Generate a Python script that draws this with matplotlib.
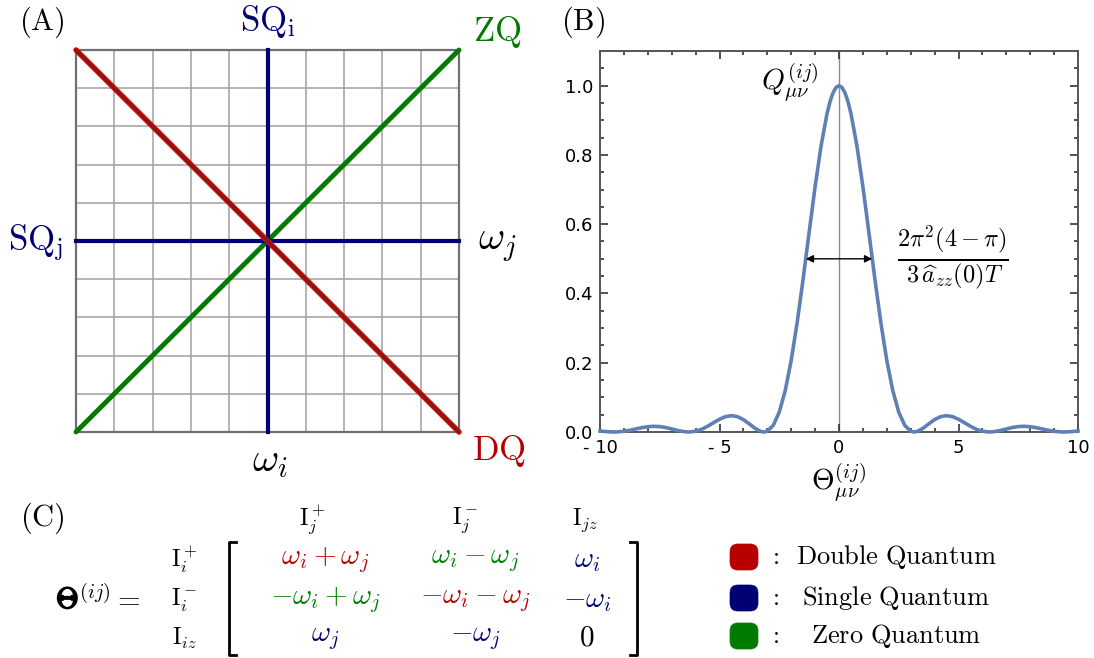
import numpy as np
import matplotlib
matplotlib.use('Agg')
import matplotlib.pyplot as plt
import matplotlib.patheffects as pe
from matplotlib.patches import FancyBboxPatch

plt.rcParams['mathtext.fontset'] = 'cm'
plt.rcParams['font.family'] = ['DejaVu Sans']

# panel B curve (right half, curve is symmetric)
theta_half = [0, 0.125, 0.25, 0.375, 0.5, 0.75, 1.0, 1.25, 1.5, 1.75, 2.0, 2.25, 2.5, 2.75,
              3.0, 3.14, 3.25, 3.5, 3.75, 4.0, 4.25, 4.5, 4.75, 5.0, 5.25, 5.5, 5.75, 6.0,
              6.28, 6.5, 6.75, 7.0, 7.25, 7.5, 7.75, 8.0, 8.25, 8.5, 8.75, 9.0, 9.25, 9.42,
              9.75, 10.0]
q_half = [1.0, 0.9948, 0.9793, 0.9540, 0.9194, 0.8261, 0.7081, 0.5764, 0.4422, 0.3162,
          0.2067, 0.1196, 0.0573, 0.0193, 0.0022, 0.0, 0.0011, 0.0100, 0.0232, 0.0358,
          0.0443, 0.0472, 0.0443, 0.0368, 0.0268, 0.0165, 0.0078, 0.0022, 0.0, 0.0011,
          0.0044, 0.0088, 0.0129, 0.0156, 0.0165, 0.0153, 0.0125, 0.0088, 0.0051, 0.0021,
          0.0004, 0.0, 0.0011, 0.0030]
fwhm_half = 1.39

x_ticks = [-10, -5, 0, 5, 10]
x_ticklabels = ['- 10', '- 5', '0', '5', '10']
y_ticks = [0.0, 0.2, 0.4, 0.6, 0.8, 1.0]

# panel C matrix
col_labels = [r'$\mathrm{I}_j^+$', r'$\mathrm{I}_j^-$', r'$\mathrm{I}_{jz}$']
row_labels = [r'$\mathrm{I}_i^+$', r'$\mathrm{I}_i^-$', r'$\mathrm{I}_{iz}$']
entries = [[r'$\omega_i+\omega_j$', r'$\omega_i-\omega_j$', r'$\omega_i$'],
           [r'$-\omega_i+\omega_j$', r'$-\omega_i-\omega_j$', r'$-\omega_i$'],
           [r'$\omega_j$', r'$-\omega_j$', r'$0$']]
legend_names = ['Double Quantum', 'Single Quantum', 'Zero Quantum']

red = '#b80000'
navy = '#000075'
green = '#007a00'
entry_colors = [[red, green, navy],
                [green, red, navy],
                [navy, navy, 'black']]
legend_colors = [red, navy, green]

W, H = 1094, 658
fig = plt.figure(figsize=(W / 100, H / 100), dpi=100)

# ---------------- panel A
ax_a = fig.add_axes([76 / W, 1 - 432 / H, 383 / W, 382 / H])
ax_a.set_xlim(-5, 5)
ax_a.set_ylim(-5, 5)
ax_a.set_xticks([])
ax_a.set_yticks([])
for g in range(-4, 5):
    ax_a.axvline(g, color='#a0a0a0', lw=1.1, zorder=1)
    ax_a.axhline(g, color='#a0a0a0', lw=1.1, zorder=1)
for sp in ax_a.spines.values():
    sp.set_color('#707070')
    sp.set_linewidth(1.6)
ax_a.plot([-5, 5], [-5, 5], color=green, lw=3.5, solid_capstyle='round', zorder=3, clip_on=False)
ax_a.plot([0, 0], [-5, 5], color=navy, lw=3, zorder=3, clip_on=False)
ax_a.plot([-5, 5], [0, 0], color=navy, lw=3, zorder=3, clip_on=False)
ax_a.plot([-5, 5], [5, -5], color='#d01010', lw=4, solid_capstyle='round', zorder=4, clip_on=False)
ax_a.plot([-5, 5], [5, -5], color='#8a1515', lw=2.2, solid_capstyle='round', zorder=5, clip_on=False)

# ---------------- panel B
ax_b = fig.add_axes([600 / W, 1 - 432 / H, 478 / W, 381 / H])
theta = [-t for t in theta_half[::-1]] + theta_half[1:]
q = q_half[::-1] + q_half[1:]
ax_b.axvline(0, color='#8a8a8a', lw=1.0, zorder=1)
ax_b.plot(theta, q, color='#5e81b5', lw=2.6, zorder=3, clip_on=False)
ax_b.set_xlim(-10, 10)
ax_b.set_ylim(0, 1.1)
ax_b.set_xticks(x_ticks)
ax_b.set_xticklabels(x_ticklabels)
ax_b.set_yticks(y_ticks)
ax_b.set_xticks(np.arange(-10, 11, 1), minor=True)
ax_b.set_yticks(np.arange(0, 1.1, 0.05), minor=True)
ax_b.tick_params(which='both', direction='in', top=True, right=True, color='#333333',
                 labelsize=13, width=1.2)
ax_b.tick_params(which='major', length=6, pad=5)
ax_b.tick_params(which='minor', length=3)
for sp in ax_b.spines.values():
    sp.set_color('#555555')
    sp.set_linewidth(1.4)
ax_b.annotate('', xy=(fwhm_half, 0.5), xytext=(-fwhm_half, 0.5),
              arrowprops=dict(arrowstyle='<|-|>', color='black', lw=1.0,
                              mutation_scale=11, shrinkA=0, shrinkB=0))
ax_b.set_xlabel(r'$\Theta_{\mu\nu}^{(ij)}$', fontsize=21, labelpad=3)

# ---------------- overlay for text and panel C (pixel coords)
ov = fig.add_axes([0, 0, 1, 1])
ov.set_xlim(0, W)
ov.set_ylim(H, 0)
ov.axis('off')
ov.patch.set_visible(False)

ov.text(42, 22, r'$\mathrm{(A)}$', fontsize=22, ha='center', va='center')
ov.text(583, 22, r'$\mathrm{(B)}$', fontsize=22, ha='center', va='center')
ov.text(42, 518, r'$\mathrm{(C)}$', fontsize=22, ha='center', va='center')

ov.text(268, 22, r'$\mathrm{SQ}_\mathrm{i}$', fontsize=25, color=navy, ha='center', va='center')
ov.text(497, 32, r'$\mathrm{ZQ}$', fontsize=25, color=green, ha='center', va='center')
ov.text(36, 243, r'$\mathrm{SQ}_\mathrm{j}$', fontsize=25, color=navy, ha='center', va='center')
ov.text(497, 245, r'$\omega_j$', fontsize=29, color='black', ha='center', va='center')
ov.text(270, 460, r'$\omega_i$', fontsize=29, color='black', ha='center', va='center')
ov.text(499, 451, r'$\mathrm{DQ}$', fontsize=25, color=red, ha='center', va='center')

ov.text(790, 82, r'$Q_{\mu\nu}^{(ij)}$', fontsize=21, ha='center', va='center')
ov.text(953, 258, r'$\frac{2\pi^2(4-\pi)}{3\,\widehat{a}_{zz}(0)T}$', fontsize=25,
        ha='center', va='center')

# matrix
ov.text(56, 608, r'$\Theta$', fontsize=21, ha='left', va='baseline',
        path_effects=[pe.withStroke(linewidth=1.2, foreground='black')])
ov.text(78, 608, r'${}^{(ij)}=$', fontsize=21, ha='left', va='baseline')
col_x = [312, 465, 585]
row_y = [560, 600, 638]
entry_x = [325, 475, 587]
for cx, lab in zip(col_x, col_labels):
    ov.text(cx, 520, lab, fontsize=17, ha='center', va='center')
for ry, lab in zip(row_y, row_labels):
    ov.text(184, ry, lab, fontsize=17, ha='center', va='center')
for r in range(3):
    for c in range(3):
        ov.text(entry_x[c], row_y[r], entries[r][c], fontsize=21,
                color=entry_colors[r][c], ha='center', va='center')
ov.plot([236, 229, 229, 236], [542, 542, 655, 655], color='black', lw=2)
ov.plot([630, 637, 637, 630], [542, 542, 655, 655], color='black', lw=2)

# legend
leg_y = [557, 598, 636]
for ly, col, name in zip(leg_y, legend_colors, legend_names):
    ov.add_patch(FancyBboxPatch((732, ly - 11), 24, 22,
                                boxstyle='round,pad=2,rounding_size=8',
                                facecolor=col, edgecolor=col, lw=0.5))
    ov.text(774, ly, r'$:$', fontsize=18, ha='center', va='center')
    ov.text(896, ly, r'$\mathrm{' + name.replace(' ', r'\ ') + '}$', fontsize=19,
            ha='center', va='center')

fig.savefig('out.png', dpi=100)
